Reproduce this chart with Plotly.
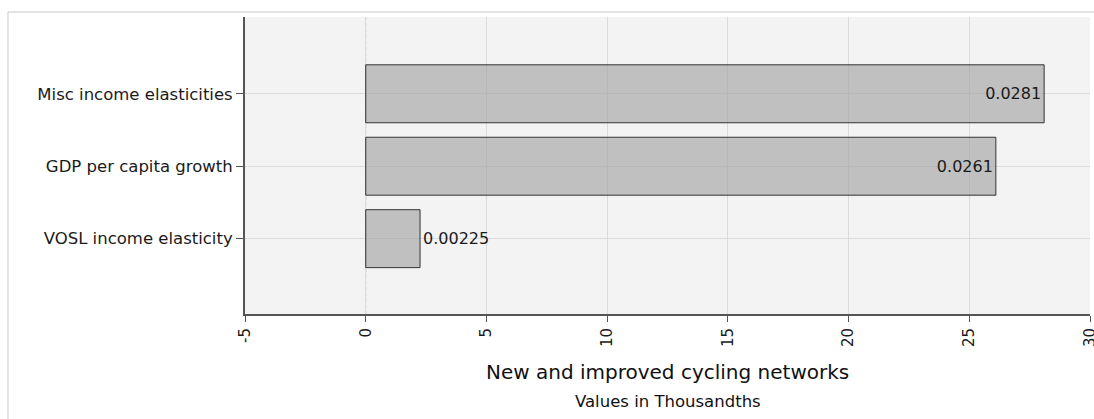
import plotly.graph_objects as go

categories = ["VOSL income elasticity", "GDP per capita growth", "Misc income elasticities"]
values = [2.25, 26.1, 28.1]
labels = ["0.00225", "0.0261", "0.0281"]
tick_vals = [-5, 0, 5, 10, 15, 20, 25, 30]
tick_text = ["-5", "0", "5", "10", "15", "20", "25", "30"]
x_title = "New and improved cycling networks"
x_subtitle = "Values in Thousandths"
zero_value = 0

FONT = "DejaVu Sans"

fig = go.Figure()
fig.add_trace(go.Bar(
    y=categories, x=values, orientation="h",
    text=labels, textposition="auto",
    insidetextanchor="end",
    textfont=dict(family=FONT, size=16, color="#1a1a1a"),
    marker=dict(color="rgba(158,158,158,0.6)", line=dict(color="#333333", width=1)),
    width=0.8,
    cliponaxis=False,
))

fig.update_layout(
    width=1094, height=419,
    margin=dict(l=245, r=4, t=17, b=105, autoexpand=False),
    paper_bgcolor="white", plot_bgcolor="#f3f3f3",
    font=dict(family=FONT, size=16, color="#1a1a1a"),
    showlegend=False,
    xaxis=dict(
        range=[-5, 30], tickvals=tick_vals, ticktext=tick_text, tickangle=-90,
        tickfont=dict(size=15, color="#1a1a1a"), ticklabeloverflow="allow",
        automargin=False,
        showgrid=True, gridcolor="#dcdcdc", gridwidth=1,
        zeroline=False, showline=True, linecolor="#555555", linewidth=2,
        ticks="outside", ticklen=6, tickcolor="#555555", tickwidth=1,
    ),
    yaxis=dict(
        range=[-1.04, 3.06], automargin=False,
        tickfont=dict(size=16.5, color="#1a1a1a"),
        showgrid=True, gridcolor="#dcdcdc", gridwidth=1,
        zeroline=False, showline=True, linecolor="#555555", linewidth=2,
        ticks="outside", ticklen=7, tickcolor="#555555", tickwidth=1,
    ),
    shapes=[
        dict(type="line", xref="x", yref="paper", x0=zero_value, x1=zero_value, y0=0, y1=1,
             line=dict(color="#aaaaaa", width=1, dash="dot"), layer="below"),
        dict(type="rect", xref="paper", yref="paper", x0=-0.2805, x1=1.02, y0=-0.6, y1=1.0168,
             line=dict(color="#c8c8c8", width=1), fillcolor="rgba(0,0,0,0)", layer="below"),
    ],
    annotations=[
        dict(text=x_title, xref="paper", yref="paper", x=0.5, y=-0.195, showarrow=False,
             xanchor="center", yanchor="middle", font=dict(family=FONT, size=20, color="#111111")),
        dict(text=x_subtitle, xref="paper", yref="paper", x=0.5, y=-0.293, showarrow=False,
             xanchor="center", yanchor="middle", font=dict(family=FONT, size=16.5, color="#111111")),
    ],
)

fig.write_html(
    "out.html",
    config={"displayModeBar": False},
    post_script="document.body.style.margin='0';document.body.style.overflow='hidden';",
)
